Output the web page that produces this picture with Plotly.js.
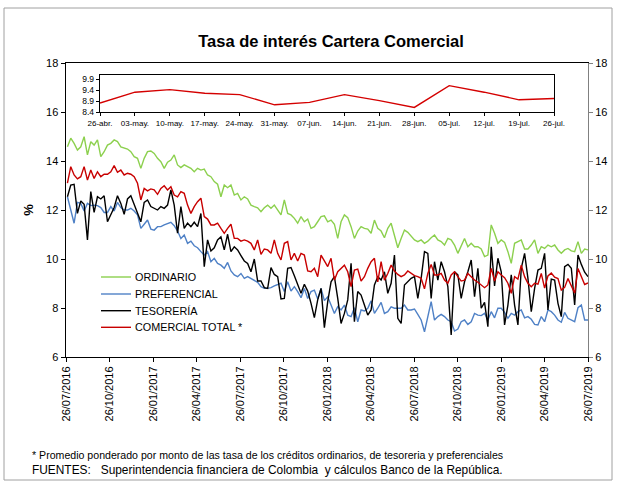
<!DOCTYPE html>
<html>
<head>
<meta charset="utf-8">
<script src="https://cdn.plot.ly/plotly-3.0.1.min.js"></script>
<style>
html,body{margin:0;padding:0;background:#fff;}
#chart{width:621px;height:483px;}
</style>
</head>
<body>
<div id="chart"></div>
<script>
// ---- Data (weekly, Fridays, 29/07/2016 .. 26/07/2019) ----
var firstDate = '2016-07-29';
var ordinario = [14.58,14.93,14.72,14.45,14.58,14.99,14.25,14.79,14.65,14.86,14.18,14.38,14.65,14.72,14.86,14.79,14.58,14.52,14.49,14.38,14.18,14.11,13.70,14.11,14.38,14.41,
14.31,14.11,13.97,13.70,13.95,14.04,14.25,13.84,13.73,13.84,13.77,13.70,13.56,13.70,13.63,13.67,13.43,13.36,13.16,13.05,12.54,13.02,12.91,13.02,12.61,
12.68,12.41,12.54,12.45,12.20,12.14,12.09,11.93,12.09,12.20,12.07,12.20,12.00,11.80,12.41,11.86,11.80,11.66,11.46,11.73,11.52,11.63,11.25,11.32,11.52,11.73,
11.76,11.52,11.59,11.42,10.84,11.52,11.80,11.69,11.32,10.84,11.14,11.32,11.25,11.22,11.05,11.59,11.25,11.14,10.87,11.25,11.46,10.91,10.46,10.84,11.18,11.09,
10.91,10.78,10.71,10.78,10.64,10.73,10.87,10.98,10.78,10.71,10.57,10.84,10.78,10.57,10.23,10.57,10.84,10.50,10.64,10.50,10.50,10.41,10.10,10.16,11.39,
11.05,10.64,10.78,10.68,10.30,9.82,10.64,10.71,10.78,10.41,10.41,10.57,10.78,10.23,10.50,10.43,10.57,10.50,10.57,10.37,10.23,10.37,10.43,10.33,10.30,10.71,10.23,10.41,10.37];
var preferencial = [12.54,12.00,11.46,12.31,12.27,11.96,12.27,12.18,12.20,12.18,12.10,11.90,11.90,12.14,11.96,12.31,12.10,12.00,12.00,12.07,11.96,11.80,11.25,11.42,11.59,11.22,
11.18,11.32,11.32,11.39,11.46,11.50,11.36,11.14,10.84,10.98,10.64,10.73,10.54,10.46,10.30,10.16,10.30,9.89,10.03,9.82,9.75,9.62,9.86,9.51,9.35,
9.28,9.41,9.21,9.28,9.21,9.14,9.05,8.87,8.80,8.80,8.83,8.90,8.97,9.01,8.67,9.07,8.69,8.87,8.67,8.42,8.80,8.39,8.67,8.73,8.37,8.80,
8.30,8.46,8.12,7.78,8.05,7.92,8.12,7.71,7.65,8.01,7.44,7.92,7.88,7.99,8.29,7.78,7.99,8.23,7.78,7.85,8.05,7.99,7.99,7.99,8.12,7.92,
7.92,7.96,7.74,7.51,7.03,7.71,8.26,7.51,7.65,7.74,7.65,7.51,7.44,7.06,7.14,7.44,7.51,7.33,7.44,7.78,7.71,7.69,7.78,7.51,7.85,
7.60,7.99,7.99,7.82,7.58,7.78,7.71,7.85,7.92,7.60,7.65,7.54,7.33,7.31,7.65,7.44,7.92,7.85,7.71,7.51,7.42,7.82,7.58,7.51,7.44,8.01,8.12,7.51,7.51];
var tesoreria = [12.54,13.02,13.05,11.86,12.37,12.23,10.78,12.75,11.90,12.54,12.45,12.58,11.52,11.80,12.10,12.58,12.27,11.82,12.45,12.58,12.20,11.86,11.52,12.31,12.41,12.14,
12.07,12.00,12.14,12.07,12.20,12.82,12.20,11.05,12.14,11.25,11.46,11.32,11.50,11.32,11.86,9.69,10.78,10.33,10.46,10.78,10.91,10.37,11.01,10.30,10.50,
10.37,10.14,9.92,9.82,9.48,10.00,9.10,9.10,8.83,8.80,9.65,9.37,9.28,8.37,8.39,9.62,9.65,9.32,8.94,8.60,8.97,8.69,8.19,7.61,8.33,8.80,
7.20,8.26,9.07,9.28,8.39,7.37,7.78,8.33,9.82,7.44,8.67,8.53,8.12,7.71,7.92,8.94,9.28,9.14,9.48,8.60,9.01,10.16,7.58,7.37,8.94,9.07,
9.21,9.28,8.39,9.21,10.30,10.23,8.39,9.89,9.14,9.89,9.48,8.87,6.90,9.48,9.35,8.39,9.07,9.48,9.96,8.46,9.62,7.99,8.23,7.24,10.50,
8.90,10.03,9.48,7.31,8.12,9.35,8.12,7.31,9.62,10.23,9.21,7.85,8.80,9.55,9.62,10.23,7.92,9.18,9.14,8.19,7.65,9.69,9.78,9.62,8.12,10.16,9.78,9.46,9.28];
var comercial = [13.10,13.77,13.43,13.27,13.36,13.77,13.22,13.63,13.29,13.56,13.36,13.46,13.46,13.56,13.81,13.54,13.63,13.43,13.50,13.46,13.36,13.09,12.41,12.88,12.78,12.86,
12.82,12.64,12.88,12.99,12.82,12.95,12.61,12.54,12.75,12.68,12.20,11.86,12.14,12.34,12.48,11.73,11.63,11.39,11.39,11.46,11.25,11.05,11.25,11.42,10.84,
10.84,10.73,10.78,10.73,10.64,10.37,10.78,10.19,10.41,10.37,10.23,10.78,10.23,9.96,10.64,10.71,9.96,10.23,9.92,10.23,10.16,9.51,9.48,9.62,9.28,10.16,
9.90,9.69,10.03,9.14,9.48,9.62,9.75,9.48,8.87,9.55,9.59,9.10,9.28,9.62,9.89,10.03,9.07,9.89,9.14,9.41,9.75,9.51,9.37,9.28,9.35,9.51,
9.41,9.32,9.28,9.21,8.78,9.41,9.78,9.35,9.35,9.41,9.14,9.01,9.35,9.48,9.28,9.10,9.14,9.41,9.28,9.14,9.05,8.94,8.83,8.94,9.62,
9.10,9.48,9.35,9.24,9.01,8.60,9.28,9.18,9.75,9.28,9.01,8.87,9.01,8.97,9.41,
8.81,9.31,9.43,9.26,9.20,8.73,8.84,9.20,8.92,8.61,9.61,9.31,8.96,9.02];

var seriesNames = ['ORDINARIO','PREFERENCIAL','TESORERÍA','COMERCIAL TOTAL *'];

var tickDates = ['2016-07-26','2016-10-26','2017-01-26','2017-04-26','2017-07-26','2017-10-26','2018-01-26','2018-04-26','2018-07-26','2018-10-26','2019-01-26','2019-04-26','2019-07-26'];
var tickLabels = ['26/07/2016','26/10/2016','26/01/2017','26/04/2017','26/07/2017','26/10/2017','26/01/2018','26/04/2018','26/07/2018','26/10/2018','26/01/2019','26/04/2019','26/07/2019'];

var insetLabels = ['26-abr.','03-may.','10-may.','17-may.','24-may.','31-may.','07-jun.','14-jun.','21-jun.','28-jun.','05-jul.','12-jul.','19-jul.','26-jul.'];
var insetValues = [8.81,9.31,9.43,9.26,9.20,8.73,8.84,9.20,8.92,8.61,9.61,9.31,8.96,9.02];

// weekly dates
function weeklyDates(start, n){
  var out=[]; var d=new Date(start+'T00:00:00Z');
  for(var i=0;i<n;i++){ var t=new Date(d.getTime()+i*7*86400000); out.push(t.toISOString().slice(0,10)); }
  return out;
}
var dates = weeklyDates(firstDate, ordinario.length);

var FONT = 'Liberation Sans, Arial, sans-serif';
var colors = ['#8cd04e','#4f81c6','#000000','#c80000'];
var vals = [ordinario, preferencial, tesoreria, comercial];

var traces = [];
for (var k=0;k<4;k++){
  traces.push({type:'scatter', mode:'lines', x:dates, y:vals[k], name:seriesNames[k], showlegend:false,
    line:{color:colors[k], width:1.4}, xaxis:'x', yaxis:'y', hoverinfo:'skip'});
}
// right axis carrier
traces.push({type:'scatter', mode:'lines', x:dates, y:ordinario, showlegend:false,
  line:{width:0, color:'rgba(0,0,0,0)'}, xaxis:'x', yaxis:'y3', hoverinfo:'skip'});
// inset
traces.push({type:'scatter', mode:'lines', x:insetLabels, y:insetValues, showlegend:false,
  line:{color:'#d40000', width:1.4}, xaxis:'x2', yaxis:'y2', hoverinfo:'skip'});

var L = 66, R = 588, T = 63, B = 357;
var W = R-L, H = B-T;
function px(x){return (x-L)/W;}
function py(y){return (B-y)/H;}

var annotations = [
  {xref:'paper', yref:'paper', x:px(30), y:py(455), xanchor:'left', yanchor:'middle', showarrow:false,
   text:'* Promedio ponderado por monto de las tasa de los créditos ordinarios, de tesoreria y preferenciales',
   font:{family:FONT, size:10.6, color:'#000'}},
  {xref:'paper', yref:'paper', x:px(30), y:py(470), xanchor:'left', yanchor:'middle', showarrow:false,
   text:'FUENTES:   Superintendencia financiera de Colombia  y cálculos Banco de la República.',
   font:{family:FONT, size:11.9, color:'#000'}}
];
var shapes = [
  {type:'rect', xref:'paper', yref:'paper', x0:px(4), x1:px(612), y0:py(480), y1:py(8),
   line:{color:'#a0a0a0', width:1}, fillcolor:'rgba(0,0,0,0)', layer:'below'}
];
// custom legend (line samples + labels)
var legendRows = [277, 294, 310.7, 327.3];
for (var k=0;k<4;k++){
  shapes.push({type:'line', xref:'paper', yref:'paper', x0:px(101), x1:px(131), y0:py(legendRows[k]), y1:py(legendRows[k]),
    line:{color:colors[k], width:1.4}});
  annotations.push({xref:'paper', yref:'paper', x:px(133), y:py(legendRows[k]), xanchor:'left', yanchor:'middle',
    showarrow:false, text:seriesNames[k], font:{family:FONT, size:10.8, color:'#000'}});
}

var layout = {
  width:621, height:483,
  margin:{l:L, r:621-R, t:T, b:483-B, pad:0},
  paper_bgcolor:'#ffffff', plot_bgcolor:'#ffffff',
  font:{family:FONT, color:'#000', size:11},
  showlegend:false,
  title:{text:'<b>Tasa de interés Cartera Comercial</b>', font:{family:FONT, size:16.5, color:'#000'},
    x:px(331), xref:'paper', xanchor:'center', y:1-41/483, yref:'container', yanchor:'middle'},
  xaxis:{type:'date', range:['2016-07-26','2019-07-26'], tickvals:tickDates, ticktext:tickLabels,
    tickangle:-90, ticks:'outside', ticklen:4, tickcolor:'#000', showline:true, linecolor:'#000', linewidth:1,
    mirror:true, showgrid:false, zeroline:false, tickfont:{family:FONT, size:11, color:'#000'}},
  yaxis:{range:[6,18], dtick:2, tick0:6, ticks:'outside', ticklen:4, tickcolor:'#000', showline:true,
    linecolor:'#000', linewidth:1.5, showgrid:false, zeroline:false,
    tickfont:{family:FONT, size:11, color:'#000'},
    title:{text:'<b>%</b>', font:{family:FONT, size:13, color:'#000'}, standoff:9}},
  yaxis3:{overlaying:'y', side:'right', range:[6,18], dtick:2, tick0:6, ticks:'outside', ticklen:4,
    tickcolor:'#808080', showline:true, linecolor:'#808080', linewidth:1, showgrid:false, zeroline:false,
    tickfont:{family:FONT, size:11, color:'#000'}},
  xaxis2:{domain:[px(100), px(554)], anchor:'y2', type:'category', range:[0,13], ticks:'outside', ticklen:3,
    tickcolor:'#000', showline:true, mirror:true, linecolor:'#000', linewidth:1.2, showgrid:false, zeroline:false,
    tickfont:{family:FONT, size:8, color:'#000'}},
  yaxis2:{domain:[py(112), py(75)], anchor:'x2', range:[8.4,10.1], tickvals:[8.4,8.9,9.4,9.9],
    ticktext:['8.4','8.9','9.4','9.9'], ticks:'outside', ticklen:3, tickcolor:'#000', showline:true, mirror:true,
    linecolor:'#000', linewidth:1.2, showgrid:false, zeroline:false, tickfont:{family:FONT, size:8.5, color:'#000'}},
  annotations:annotations,
  shapes:shapes
};

Plotly.newPlot('chart', traces, layout, {staticPlot:true, displayModeBar:false});
</script>
</body>
</html>
